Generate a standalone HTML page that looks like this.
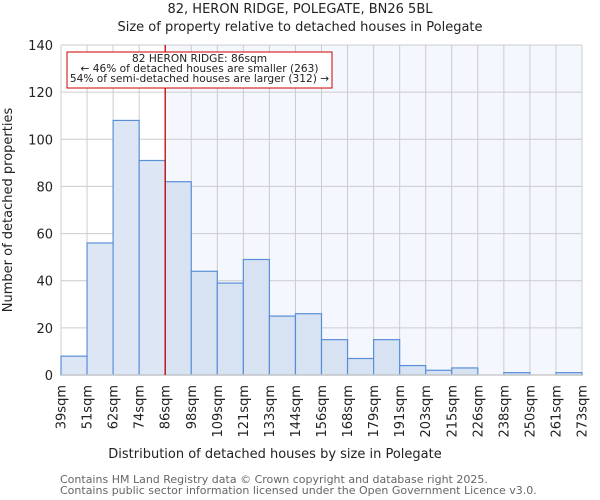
<!DOCTYPE html>
<html><head><meta charset="utf-8"><style>
body{margin:0;background:#fff;}
svg{display:block;font-family:"DejaVu Sans","Liberation Sans",sans-serif;}
</style></head><body>
<svg id="chart" width="600" height="500">
<text x="300" y="13" text-anchor="middle" font-size="13" fill="#222">82, HERON RIDGE, POLEGATE, BN26 5BL</text>
<text x="300" y="31" text-anchor="middle" font-size="13" fill="#222">Size of property relative to detached houses in Polegate</text>
<g id="plot"></g>
<text x="275" y="458" text-anchor="middle" font-size="13" fill="#222">Distribution of detached houses by size in Polegate</text>
<text transform="translate(12,210) rotate(-90)" text-anchor="middle" font-size="13" fill="#222">Number of detached properties</text>
<text x="60" y="483" font-size="11" fill="#666">Contains HM Land Registry data © Crown copyright and database right 2025.</text>
<text x="60" y="494" font-size="11" fill="#666">Contains public sector information licensed under the Open Government Licence v3.0.</text>
</svg>
<script>
const categories=["39sqm","51sqm","62sqm","74sqm","86sqm","98sqm","109sqm","121sqm","133sqm","144sqm","156sqm","168sqm","179sqm","191sqm","203sqm","215sqm","226sqm","238sqm","250sqm","261sqm","273sqm"];
const counts=[8,56,108,91,82,44,39,49,25,26,15,7,15,4,2,3,0,1,0,1];
const yTicks=[0,20,40,60,80,100,120,140];
const markerBin=4;
const NS="http://www.w3.org/2000/svg";
const L=61,R=582,T=45,B=375,yMax=140;
const bw=(R-L)/counts.length;
const xs=i=>L+i*bw;
const ys=v=>B-(v/yMax)*(B-T);
const g=document.getElementById('plot');
function mk(t,a){const e=document.createElementNS(NS,t);for(const k in a)e.setAttribute(k,a[k]);g.appendChild(e);return e;}
const mx=xs(markerBin);
let bg=mk('rect',{x:mx,y:T,width:R-mx,height:B-T,fill:'#f4f7fe'});


yTicks.forEach(v=>{
 let l=mk('line',{x1:L,x2:R,y1:ys(v),y2:ys(v),stroke:'#cccccc','stroke-width':1});
 
 
 let t=mk('text',{x:L-8,y:ys(v)+5,'text-anchor':'end','font-size':13,fill:'#222'});
 t.textContent=v;
 
 
});
categories.forEach((c,i)=>{
 let l=mk('line',{x1:xs(i),x2:xs(i),y1:T,y2:B,stroke:'#cccccc','stroke-width':1});
 
 
 let x=xs(i)+4.5,y=B+10;
 let t=mk('text',{x:x,y:y,transform:`rotate(-90 ${x} ${y})`,'text-anchor':'end','font-size':13,fill:'#222'});
 t.textContent=c;
 
 
});
counts.forEach((v,i)=>{
 let r=mk('rect',{x:xs(i),y:ys(v),width:bw,height:B-ys(v),fill:i<markerBin?'#dce6f4':'#d7e2f3',stroke:'#5a8fd8','stroke-width':1.2});
 
 
});
let ax=mk('line',{x1:L,x2:R,y1:B,y2:B,stroke:'#cccccc','stroke-width':1.5});


let ml=mk('line',{x1:mx,x2:mx,y1:T,y2:B,stroke:'#cc0000','stroke-width':1.3});


let box=mk('rect',{x:67,y:52,width:265,height:36,fill:'#fff',stroke:'#cc0000','stroke-width':1});


["82 HERON RIDGE: 86sqm","← 46% of detached houses are smaller (263)","54% of semi-detached houses are larger (312) →"].forEach((s,i)=>{
 let t=mk('text',{x:199.5,y:62+i*10,'text-anchor':'middle','font-size':10.6,fill:'#222'});
 t.textContent=s;
 
 
});
</script>
</body></html>
